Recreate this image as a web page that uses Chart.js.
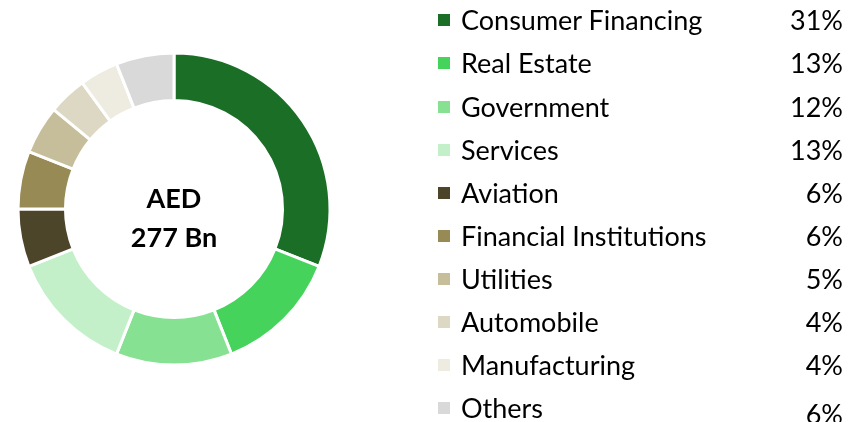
<!DOCTYPE html>
<html><head><meta charset="utf-8">
<script src="https://cdn.jsdelivr.net/npm/chart.js@4"></script>
<style>
html,body{margin:0;padding:0;background:#fff;}
#wrap{position:relative;width:851px;height:422px;overflow:hidden;}
#c{position:absolute;left:0;top:0;}
.row{position:absolute;left:438px;width:405px;height:30px;font-family:Lato,sans-serif;font-size:27px;color:#000;}
.sw{position:absolute;left:0;top:9px;width:12px;height:12px;}
.lab{position:absolute;left:23px;top:0;line-height:30px;white-space:nowrap;}
.val{position:absolute;right:0;top:0;line-height:30px;}
</style></head><body>
<div id="wrap"><canvas id="c" width="851" height="422"></canvas></div>
<script>
const categories = ["Consumer Financing","Real Estate","Government","Services","Aviation","Financial Institutions","Utilities","Automobile","Manufacturing","Others"];
const shares = [31,13,12,13,6,6,5,4,4,6];
const colors = ["#1B6E26","#46D35C","#86E193","#C3F0C9","#4C452A","#978A55","#C6BE9A","#DDD8C3","#EEEBE0","#D9D9D9"];
const centerLines = ["AED","277 Bn"];

const wrap = document.getElementById('wrap');
const rowY = [20,63,107,150,193,236,279,322,365,408];
categories.forEach((c,i)=>{
  const r=document.createElement('div');r.className='row';r.style.top=(rowY[i]-15)+'px';
  r.innerHTML='<div class="sw" style="background:'+colors[i]+'"></div><div class="lab">'+c+'</div><div class="val"'+(i===9?' style="top:6px"':'')+'>'+shares[i]+'%</div>';
  wrap.appendChild(r);
});

const centerText = {
  id:'centerText',
  afterDraw(chart){
    const {ctx, chartArea:a} = chart;
    const cx=(a.left+a.right)/2, cy=(a.top+a.bottom)/2;
    ctx.save();
    ctx.fillStyle='#000';ctx.textAlign='center';ctx.textBaseline='alphabetic';
    ctx.font='bold 27px Lato, sans-serif';
    ctx.fillText(centerLines[0],cx,cy-1);
    ctx.fillText(centerLines[1],cx,cy+38);
    ctx.restore();
  }
};

new Chart(document.getElementById('c'),{
  type:'doughnut',
  data:{labels:categories,datasets:[{data:shares,backgroundColor:colors,borderColor:'#fff',borderWidth:3}]},
  options:{
    responsive:false,animation:false,
    radius:156,cutout:120,
    layout:{padding:{left:0,top:0,right:503,bottom:4}},
    plugins:{legend:{display:false},tooltip:{enabled:false}}
  },
  plugins:[centerText]
});
</script></body></html>
